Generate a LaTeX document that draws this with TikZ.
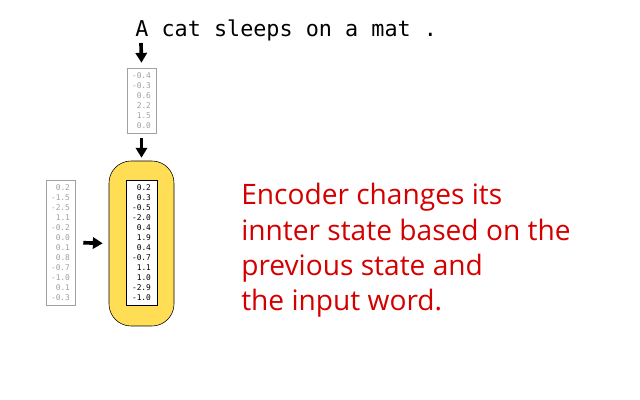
\documentclass[tikz,border=0pt]{standalone}
\usepackage{fontspec}
\setmainfont{Open Sans}
\setmonofont{DejaVu Sans Mono}
\usetikzlibrary{arrows.meta}
\definecolor{encyellow}{HTML}{FFDD55}
\definecolor{notered}{HTML}{D40000}
\definecolor{vecgray}{HTML}{A0A0A0}
\newcommand{\vecfont}{\ttfamily\fontsize{5.6}{7.1}\selectfont}

\begin{document}
\begin{tikzpicture}[x=0.025cm,y=-0.025cm,
  flow/.style={-{Triangle[length=7pt,width=8pt]},line width=2.6pt}]
  \tikzstyle{vec}=[draw=vecgray,fill=white,text=vecgray,align=right,font=\vecfont,inner sep=0pt,minimum width=29*0.025cm]
  \useasboundingbox (0,0) rectangle (640,400);
  \node[anchor=base west,inner sep=0pt,font=\ttfamily\fontsize{15.5}{18}\selectfont] (sent) at (135,37) {A cat sleeps on a mat .};
  \coordinate (wordA) at (141,43);
  \node[vec,minimum height=65*0.025cm] (emb) at (141.5,100.5) {-0.4\\-0.3\\0.6\\2.2\\1.5\\0.0};
  \node[draw=black,fill=encyellow,rounded corners=22*0.025cm,minimum width=65*0.025cm,minimum height=165*0.025cm] (state) at (141.5,243.5) {};
  \node[vec,draw=black,text=black,minimum width=31*0.025cm,minimum height=125*0.025cm] (hidden) at (141.5,242.5) {0.2\\0.3\\-0.5\\-2.0\\0.4\\1.9\\0.4\\-0.7\\1.1\\1.0\\-2.9\\-1.0};
  \node[vec,minimum height=125*0.025cm] (prev) at (60.5,242.5) {0.2\\-1.5\\-2.5\\1.1\\-0.2\\0.0\\0.1\\0.8\\-0.7\\-1.0\\0.1\\-0.3};
  \node[anchor=north west,inner sep=0pt,align=left,text=notered,font=\fontsize{20}{25.2}\selectfont] (note) at (241,183) {Encoder changes its\\innter state based on the\\previous state and\\the input word.};
  \draw[flow] (wordA) -- ([yshift=5*0.025cm]emb.north);
  \draw[flow,shorten <=5*0.025cm] (emb.south) -- ([yshift=3*0.025cm]state.north);
  \draw[flow,shorten <=8*0.025cm,shorten >=6*0.025cm] (prev.east) -- (state.west);
\end{tikzpicture}
\end{document}
